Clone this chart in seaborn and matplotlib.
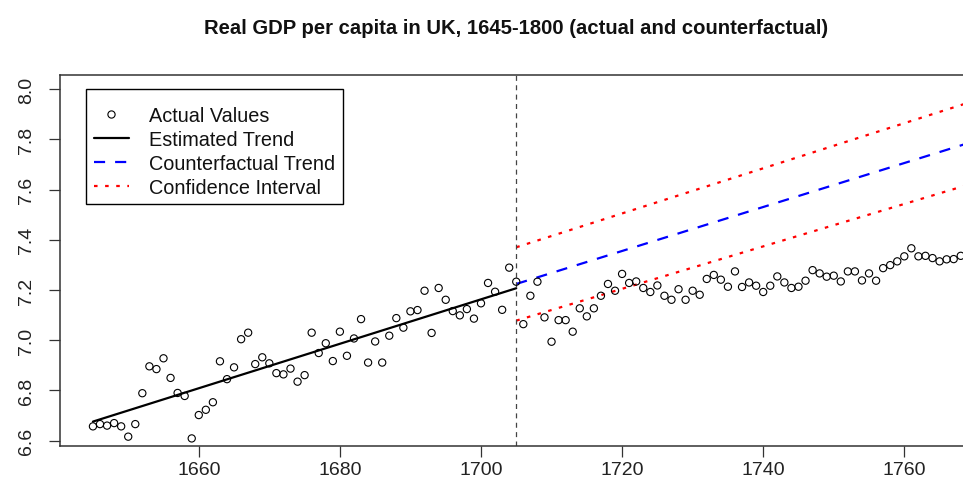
"""
Real GDP per capita in the UK, 1645-1800: actual values, fitted trend and
counterfactual trend with its confidence band.
"""

import numpy as np
import pandas as pd
import matplotlib
matplotlib.use("Agg")
import matplotlib.pyplot as plt
from matplotlib.lines import Line2D
import seaborn as sns

# ── data (log real GDP per capita) ──────────────────────────────────────────
years = list(range(1645, 1769))
actual = [
    6.657, 6.666, 6.660, 6.670, 6.657, 6.616, 6.666, 6.789, 6.896, 6.885,   # 1645-
    6.928, 6.850, 6.790, 6.778, 6.609, 6.702, 6.723, 6.753, 6.916, 6.845,   # 1655-
    6.892, 7.004, 7.030, 6.905, 6.932, 6.908, 6.869, 6.864, 6.887, 6.835,   # 1665-
    6.861, 7.030, 6.949, 6.988, 6.917, 7.034, 6.938, 7.007, 7.084, 6.911,   # 1675-
    6.995, 6.911, 7.018, 7.088, 7.050, 7.115, 7.120, 7.197, 7.029, 7.208,   # 1685-
    7.161, 7.116, 7.099, 7.124, 7.086, 7.147, 7.228, 7.193, 7.121, 7.289,   # 1695-
    7.233, 7.064, 7.177, 7.233, 7.091, 6.994, 7.080, 7.080, 7.034, 7.127,   # 1705-
    7.095, 7.127, 7.177, 7.224, 7.197, 7.264, 7.228, 7.234, 7.208, 7.192,   # 1715-
    7.218, 7.177, 7.161, 7.203, 7.161, 7.197, 7.181, 7.244, 7.260, 7.241,   # 1725-
    7.213, 7.274, 7.212, 7.230, 7.217, 7.192, 7.217, 7.254, 7.230, 7.208,   # 1735-
    7.213, 7.237, 7.279, 7.266, 7.253, 7.257, 7.234, 7.274, 7.274, 7.238,   # 1745-
    7.266, 7.237, 7.287, 7.299, 7.314, 7.334, 7.366, 7.334, 7.336, 7.327,   # 1755-
    7.314, 7.322, 7.323, 7.336,                                             # 1765-
]

trend_years = [1645, 1705]
trend_vals = [6.676, 7.207]

cf_years = [1705, 1770]
cf_vals = [7.224, 7.793]
ci_upper = [7.370, 7.954]
ci_lower = [7.078, 7.627]

BREAK_YEAR = 1705
x_ticks = [1660, 1680, 1700, 1720, 1740, 1760]
y_ticks = [6.6, 6.8, 7.0, 7.2, 7.4, 7.6, 7.8, 8.0]

df = pd.DataFrame({"year": years, "gdp": actual})

# ── style ────────────────────────────────────────────────────────────────────
sns.set_theme(style="white")
plt.rcParams["font.family"] = ["Liberation Sans", "DejaVu Sans"]

fig = plt.figure(figsize=(9.63, 5.02), dpi=100)
ax = fig.add_axes([60 / 963, 1 - 446.7 / 502, 903 / 963, 370.7 / 502])

sns.scatterplot(data=df, x="year", y="gdp", ax=ax, marker="o", s=27,
                facecolor="none", edgecolor="black", linewidth=0.8, zorder=3)

sns.lineplot(x=trend_years, y=trend_vals, ax=ax, color="black", linewidth=1.6)
sns.lineplot(x=cf_years, y=cf_vals, ax=ax, color="#0000ff", linewidth=1.6)
ax.lines[-1].set_dashes((5, 4.5))
for band in (ci_upper, ci_lower):
    sns.lineplot(x=cf_years, y=band, ax=ax, color="#ff0000", linewidth=1.6)
    ax.lines[-1].set_dashes((1.6, 3.4))

ax.axvline(BREAK_YEAR, color="#444444", linewidth=0.9, dashes=(4, 3.5))

ax.set_xticks(x_ticks)
ax.set_yticks(y_ticks)
ax.set_xlim(1640.33, 1768.32)
ax.set_ylim(6.58, 8.056)
ax.set_yticklabels([f"{v:.1f}" for v in y_ticks], rotation=90, va="center")
ax.set_xlabel("")
ax.set_ylabel("")
ax.tick_params(axis="both", direction="out", length=8, width=0.9,
               color="#333333", labelsize=14, labelcolor="#222222",
               bottom=True, left=True)
ax.tick_params(axis="x", pad=3)
ax.tick_params(axis="y", pad=10)
for side in ("top", "bottom", "left"):
    ax.spines[side].set_color("#333333")
    ax.spines[side].set_linewidth(1.1)
ax.spines["right"].set_visible(False)
ax.grid(False)

handles = [
    Line2D([], [], linestyle="none", marker="o", markersize=5.2,
           markerfacecolor="none", markeredgecolor="black", markeredgewidth=0.8),
    Line2D([], [], color="black", linewidth=1.6),
    Line2D([], [], color="#0000ff", linewidth=1.6, dashes=(5, 4.5)),
    Line2D([], [], color="#ff0000", linewidth=1.6, dashes=(1.6, 3.4)),
]
labels = ["Actual Values", "Estimated Trend", "Counterfactual Trend", "Confidence Interval"]
# blank title only adds the extra top padding R puts in its legends
leg = ax.legend(handles, labels, loc="upper left",
                bbox_to_anchor=(26 / 903, (446.7 - 90) / 370.7),
                borderaxespad=0, fontsize=14.3, frameon=True, fancybox=False,
                framealpha=1, edgecolor="black", borderpad=0.38,
                labelspacing=0.24, handlelength=1.8, handletextpad=1.0,
                title=" ", title_fontsize=4)
leg.get_frame().set_linewidth(1.0)
for t in leg.get_texts():
    t.set_color("#111111")

fig.text(516 / 963, 1 - 29 / 502,
         "Real GDP per capita in UK, 1645-1800 (actual and counterfactual)",
         ha="center", va="center", fontsize=14.6, fontweight="bold", color="#111111")

fig.savefig("out.png", dpi=100)
plt.close(fig)
